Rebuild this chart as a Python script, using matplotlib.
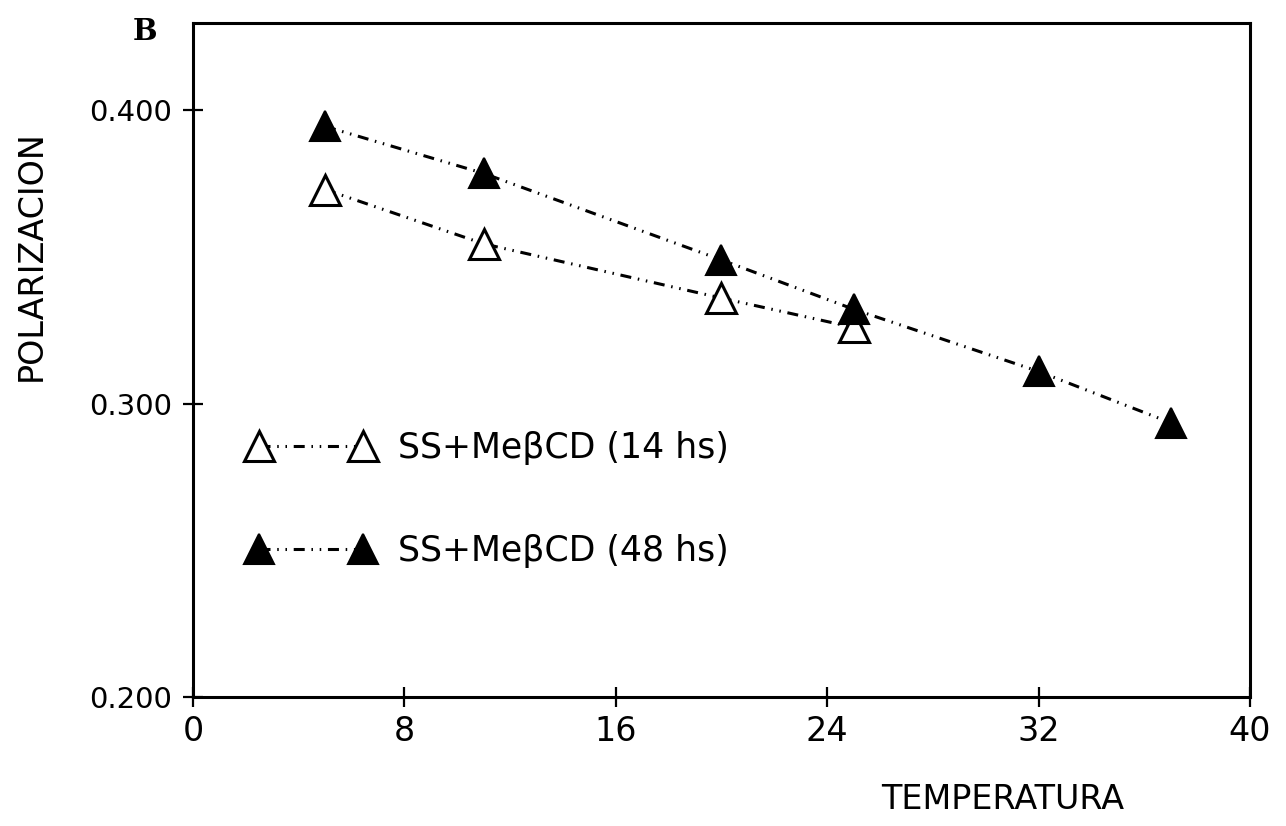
import matplotlib
matplotlib.use('Agg')
import matplotlib.pyplot as plt

plt.rcParams['font.family'] = ['DejaVu Sans']

# -------------------- datos ----------------------
temp_14 = [5, 11, 20, 25]
pol_14 = [0.373, 0.3545, 0.336, 0.326]

temp_48 = [5, 11, 20, 25, 32, 37]
pol_48 = [0.3945, 0.3785, 0.349, 0.3322, 0.311, 0.2935]

label_14 = 'SS+MeβCD (14 hs)'
label_48 = 'SS+MeβCD (48 hs)'

x_ticks = [0, 8, 16, 24, 32, 40]
y_ticks = [0.200, 0.300, 0.400]

# guion-punto-punto
ls = (0, (3.6, 2.2, 0.5, 2.2, 0.5, 2.2))

fig = plt.figure(figsize=(12.86, 8.26), dpi=100)
ax = fig.add_axes([0.1500, 0.1560, 0.8220, 0.8160])

ax.plot(temp_14, pol_14, linestyle=ls, color='black', linewidth=2.2,
        marker='^', markersize=21, markerfacecolor='white',
        markeredgecolor='black', markeredgewidth=2.2, label=label_14)
ax.plot(temp_48, pol_48, linestyle=ls, color='black', linewidth=2.2,
        marker='^', markersize=21, markerfacecolor='black',
        markeredgecolor='black', markeredgewidth=1.5, label=label_48)

ax.set_xlim(0, 40)
ax.set_ylim(0.200, 0.4297)
ax.set_xticks(x_ticks)
ax.set_xticklabels([str(t) for t in x_ticks])
ax.set_yticks(y_ticks)
ax.set_yticklabels(['%.3f' % t for t in y_ticks])

for sp in ax.spines.values():
    sp.set_linewidth(2.2)

ax.tick_params(axis='both', direction='inout', length=14, width=1.6)
ax.tick_params(axis='x', labelsize=24, pad=6)
ax.tick_params(axis='y', labelsize=21, pad=8)

fig.text(0.024, 0.69, 'POLARIZACION', rotation=90, fontsize=24,
         ha='center', va='center')
fig.text(0.780, 0.032, 'TEMPERATURA', fontsize=24, ha='center', va='center')
fig.text(0.113, 0.962, 'B', fontsize=21, fontweight='bold',
         family='DejaVu Serif', ha='center', va='center')

leg = ax.legend(loc='upper left', bbox_to_anchor=(0.0527, 0.395), frameon=False,
                numpoints=2, handlelength=3.6, handletextpad=0.7,
                labelspacing=1.98, borderpad=0, borderaxespad=0, fontsize=25)

fig.savefig('out.png', dpi=100)
